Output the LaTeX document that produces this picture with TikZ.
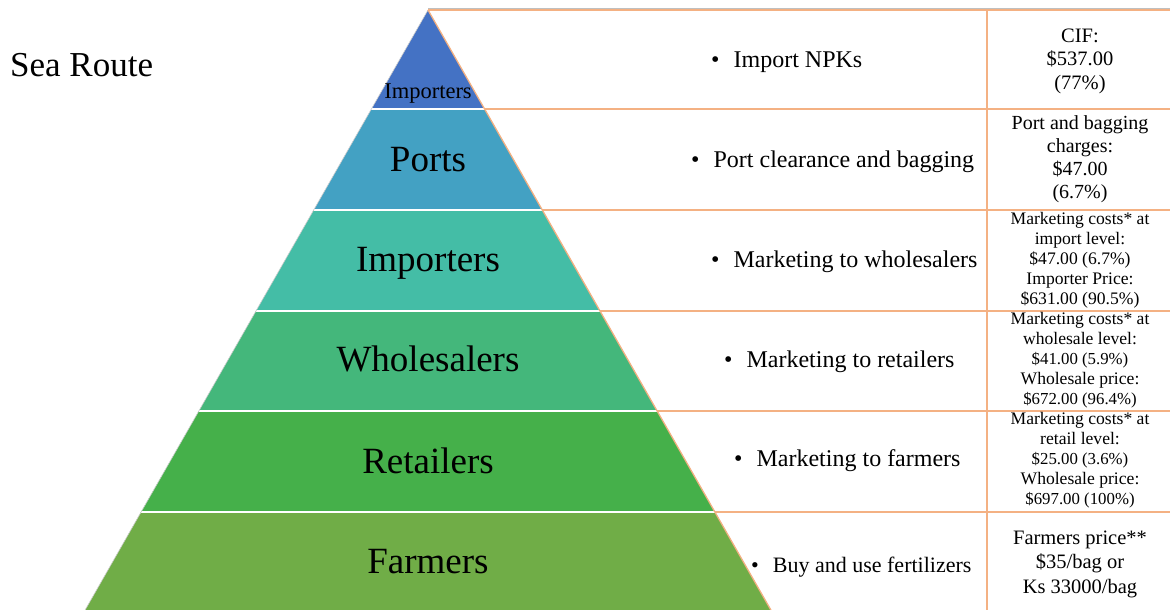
\documentclass[tikz,border=0pt]{standalone}
\usepackage{fontspec}
\setmainfont{Liberation Serif}
\definecolor{cTop}{HTML}{4472C4}
\definecolor{cPorts}{HTML}{43A1C3}
\definecolor{cImp}{HTML}{44BDA6}
\definecolor{cWhole}{HTML}{44B77B}
\definecolor{cRet}{HTML}{45B04A}
\definecolor{cFarm}{HTML}{70AD47}
\definecolor{cLine}{HTML}{F4B183}
\tikzset{
  layer/.style={draw=white, line width=1.6pt},
  tabline/.style={draw=cLine, line width=1.3pt},
  biglabel/.style={anchor=base, inner sep=0pt, font=\fontsize{37}{42}\selectfont},
  midtext/.style={anchor=base west, inner sep=0pt, font=\fontsize{24}{28}\selectfont},
  rcol/.style={anchor=center, align=center, inner sep=0pt},
}
\newcommand{\bul}{\textbullet\hspace{14pt}}
\newcommand{\smallnum}{\fontsize{16.8}{20}\selectfont}
\begin{document}
\begin{tikzpicture}[x=1pt,y=-1pt]
\useasboundingbox (0,0) rectangle (1170,610);
% pyramid layers
\fill[cTop]   (428,10) -- (484.6,109) -- (371.4,109) -- cycle;
\fill[cPorts] (371.4,109) -- (484.6,109) -- (542.3,210) -- (313.7,210) -- cycle;
\fill[cImp]   (313.7,210) -- (542.3,210) -- (600.1,311) -- (255.9,311) -- cycle;
\fill[cWhole] (255.9,311) -- (600.1,311) -- (657.2,411) -- (198.8,411) -- cycle;
\fill[cRet]   (198.8,411) -- (657.2,411) -- (715,512) -- (141,512) -- cycle;
\fill[cFarm]  (141,512) -- (715,512) -- (772,612) -- (84,612) -- cycle;
% white separators
\draw[layer] (371.4,109) -- (484.6,109);
\draw[layer] (313.7,210) -- (542.3,210);
\draw[layer] (255.9,311) -- (600.1,311);
\draw[layer] (198.8,411) -- (657.2,411);
\draw[layer] (141,512) -- (715,512);
\draw[draw=gray!40, line width=0.6pt] (428,10) -- (84,612);
% table lines
\draw[draw=gray!50, line width=1pt] (428,8.6) -- (1170,8.6);
\draw[tabline] (428,10) -- (1170,10);
\draw[tabline] (484.6,109) -- (1170,109);
\draw[tabline] (542.3,210) -- (1170,210);
\draw[tabline] (600.1,311) -- (1170,311);
\draw[tabline] (657.2,411) -- (1170,411);
\draw[tabline] (715,512) -- (1170,512);
\draw[tabline] (428,10) -- (772,612);
\draw[tabline] (987,10) -- (987,610);
% title
\node[anchor=base west, inner sep=0pt, font=\fontsize{35}{40}\selectfont] (title) at (10,77) {Sea Route};
% pyramid labels
\node[anchor=base, inner sep=0pt, font=\fontsize{22.5}{26}\selectfont] (l1) at (428,98) {Importers};
\node[biglabel] (l2) at (428,171) {Ports};
\node[biglabel] (l3) at (428,271) {Importers};
\node[biglabel] (l4) at (428,371) {Wholesalers};
\node[biglabel] (l5) at (428,473) {Retailers};
\node[biglabel] (l6) at (428,573) {Farmers};
% middle column
\node[midtext] (m1) at (711,68) {\bul Import NPKs};
\node[midtext] (m2) at (691,167) {\bul Port clearance and bagging};
\node[midtext] (m3) at (711,267) {\bul Marketing to wholesalers};
\node[midtext] (m4) at (724,367) {\bul Marketing to retailers};
\node[midtext] (m5) at (734,466) {\bul Marketing to farmers};
\node[midtext, font=\fontsize{22}{26}\selectfont] (m6) at (751,572) {\bul Buy and use fertilizers};
% right column
\node[rcol, font=\fontsize{20.5}{23.5}\selectfont] (r1) at (1080,61) {CIF:\\\$537.00\\(77\%)};
\node[rcol, font=\fontsize{20}{23}\selectfont] (r2) at (1080,159) {Port and bagging\\charges:\\\$47.00\\(6.7\%)};
\node[rcol, font=\fontsize{17.6}{20}\selectfont] (r3) at (1080,260) {Marketing costs* at\\import level:\\\$47.00 (6.7\%)\\Importer Price:\\\$631.00 (90.5\%)};
\node[rcol, font=\fontsize{17.6}{20}\selectfont] (r4) at (1080,360) {Marketing costs* at\\wholesale level:\\{\smallnum\$41.00 (5.9\%)}\\Wholesale price:\\{\smallnum\$672.00 (96.4\%)}};
\node[rcol, font=\fontsize{17.6}{20}\selectfont] (r5) at (1080,460) {Marketing costs* at\\retail level:\\{\smallnum\$25.00 (3.6\%)}\\Wholesale price:\\{\smallnum\$697.00 (100\%)}};
\node[rcol, font=\fontsize{20.5}{24.5}\selectfont] (r6) at (1080,564) {Farmers price**\\\$35/bag or\\Ks 33000/bag};
\end{tikzpicture}
\end{document}
